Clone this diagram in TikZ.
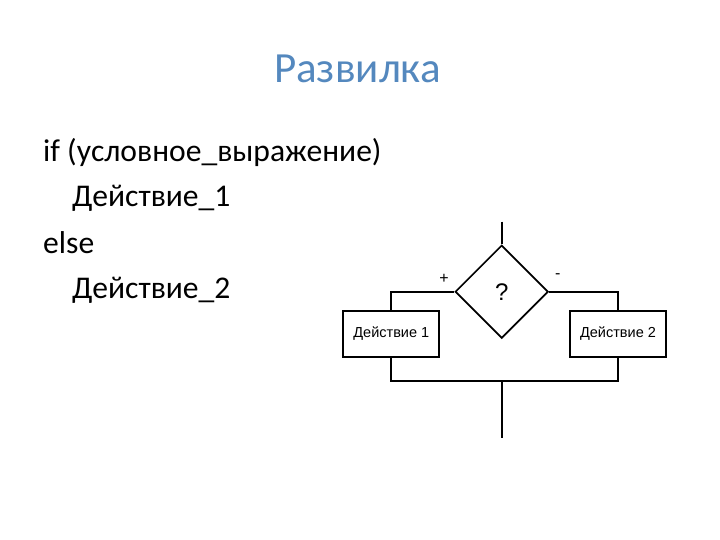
\documentclass[tikz,border=0pt]{standalone}
\usepackage{fontspec}
\setmainfont{Carlito}
\newfontfamily\arialfont{Liberation Sans}
\usetikzlibrary{shapes.geometric}
\definecolor{titleblue}{RGB}{84,136,190}
\tikzset{
  line/.style={line width=1.7pt},
  actbox/.style={draw, line width=1.7pt, minimum width=96pt, minimum height=46pt, inner sep=0pt, font=\arialfont\fontsize{14.5}{16}\selectfont},
  cond/.style={draw, diamond, line width=1.7pt, minimum width=93pt, minimum height=93pt, inner sep=0pt, font=\arialfont\fontsize{24}{26}\selectfont},
  code/.style={anchor=base west, inner sep=0pt, font=\fontsize{31.6}{35}\selectfont},
  sign/.style={inner sep=0pt, font=\arialfont\fontsize{16}{18}\selectfont}
}
\begin{document}
\begin{tikzpicture}[x=1pt,y=-1pt]
\useasboundingbox (0,0) rectangle (720,540);
\node[anchor=base, inner sep=0pt, text=titleblue, font=\fontsize{43}{47}\selectfont] (title) at (357.5,83) {Развилка};
\node[code] (l1) at (43,162) {if (условное\_выражение)};
\node[code] (l2) at (72,207) {Действие\_1};
\node[code] (l3) at (43,253) {else};
\node[code] (l4) at (72,298) {Действие\_2};

\node[cond] (q) at (501.7,291.7) {?};
\node[actbox] (a1) at (391.3,333.7) {Действие 1};
\node[actbox] (a2) at (618,333.7) {Действие 2};
\node[sign] (plus) at (444,279) {+};
\node[sign] (minus) at (557.7,276) {-};
\coordinate (top) at (501.7,221.7);
\coordinate (join) at (501.7,380.7);
\coordinate (bot) at (501.7,438);

\draw[line] (top) -- (q.north);
\draw[line] (q.west) -| (a1.north);
\draw[line] (q.east) -| (a2.north);
\draw[line] (a1.south) |- (join) -| (a2.south);
\draw[line] (join) -- (bot);
\end{tikzpicture}
\end{document}
